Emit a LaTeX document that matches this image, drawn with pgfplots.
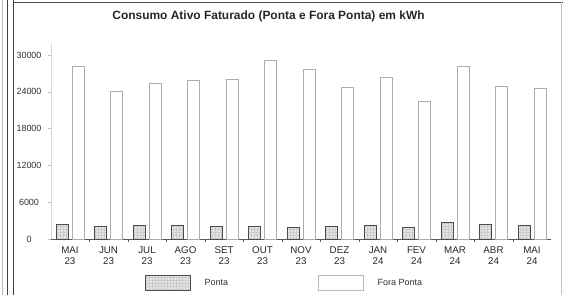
\documentclass[border=0pt]{standalone}
\usepackage{pgfplots}
\pgfplotsset{compat=1.18}
\usepackage{fontspec}
\setmainfont{Liberation Sans}
\usetikzlibrary{patterns}
\begin{document}
\begin{tikzpicture}[x=1bp,y=1bp]
\useasboundingbox (0,0) rectangle (563,295);
\draw[gray!55, line width=0.8bp] (2,0) -- (2,295);
\draw[gray!50!black, line width=1bp] (7.5,0) -- (7.5,295);
\draw[gray!50!black, line width=1bp] (13.5,0) -- (13.5,295);
\draw[gray!60!black, line width=0.8bp] (13.5,293) -- (563,293);
\draw[gray!45, line width=0.8bp] (561,0) -- (561,293);
\node[font=\bfseries\fontsize{12}{14}\selectfont, text=black!85] at (268.5,279) {Consumo Ativo Faturado (Ponta e Fora Ponta) em kWh};
\begin{axis}[
  at={(50.75bp,56bp)}, anchor=south west,
  scale only axis, width=500.5bp, height=196.3bp,
  xmin=-0.5, xmax=12.5, ymin=0, ymax=32000,
  ybar=4bp, bar width=12bp,
  axis x line*=bottom, axis y line*=left,
  x axis line style={gray!70!black, line width=0.6bp, -},
  y axis line style={gray!30, line width=0.5bp, -},
  ytick={0,6000,12000,18000,24000,30000},
  scaled y ticks=false,
  /pgf/number format/assume math mode=true,
  /pgf/number format/set thousands separator={},
  yticklabel style={anchor=center, xshift=-18.75bp, font=\fontsize{9}{10}\selectfont, text=black!80},
  tick align=outside,
  major tick length=3bp, minor tick length=3bp,
  y tick style={gray!50, line width=0.5bp},
  xtick={0,1,2,3,4,5,6,7,8,9,10,11,12},
  xticklabels={{MAI\\23},{JUN\\23},{JUL\\23},{AGO\\23},{SET\\23},{OUT\\23},{NOV\\23},{DEZ\\23},{JAN\\24},{FEV\\24},{MAR\\24},{ABR\\24},{MAI\\24}},
  xticklabel style={align=center, font=\fontsize{9.8}{11}\selectfont, text=black!85, yshift=-1bp},
  major x tick style={draw=none},
  minor x tick num=1,
  minor x tick style={gray!70!black, line width=0.5bp},
  legend columns=2,
  legend style={at={(0.1883,-0.224)}, anchor=west, draw=none, fill=none, inner sep=0pt,
    font=\fontsize{9}{10}\selectfont, text=black!80,
    /tikz/every odd column/.append style={column sep=12bp},
    /tikz/every even column/.append style={column sep=88bp}},
]
\addplot[fill=gray!20, draw=gray!60!black, line width=0.5bp,
  postaction={pattern=grid, pattern color=gray!40},
  legend image code/.code={\draw[fill=gray!20, draw=gray!60!black, line width=0.5bp, postaction={pattern=grid, pattern color=gray!40}] (0bp,-7.5bp) rectangle (45bp,7.5bp);}]
coordinates {(0,2330) (1,2000) (2,2200) (3,2300) (4,2000) (5,2000) (6,1900) (7,2000) (8,2200) (9,1900) (10,2700) (11,2400) (12,2300)};
\addlegendentry{Ponta}
\addplot[fill=white, draw=gray!65, line width=0.6bp,
  legend image code/.code={\draw[fill=white, draw=gray!55, line width=0.6bp] (0bp,-7.5bp) rectangle (45bp,7.5bp);}]
coordinates {(0,28100) (1,24000) (2,25300) (3,25900) (4,26000) (5,29100) (6,27600) (7,24800) (8,26300) (9,22500) (10,28200) (11,24900) (12,24500)};
\addlegendentry{Fora Ponta}
\end{axis}
\end{tikzpicture}
\end{document}
